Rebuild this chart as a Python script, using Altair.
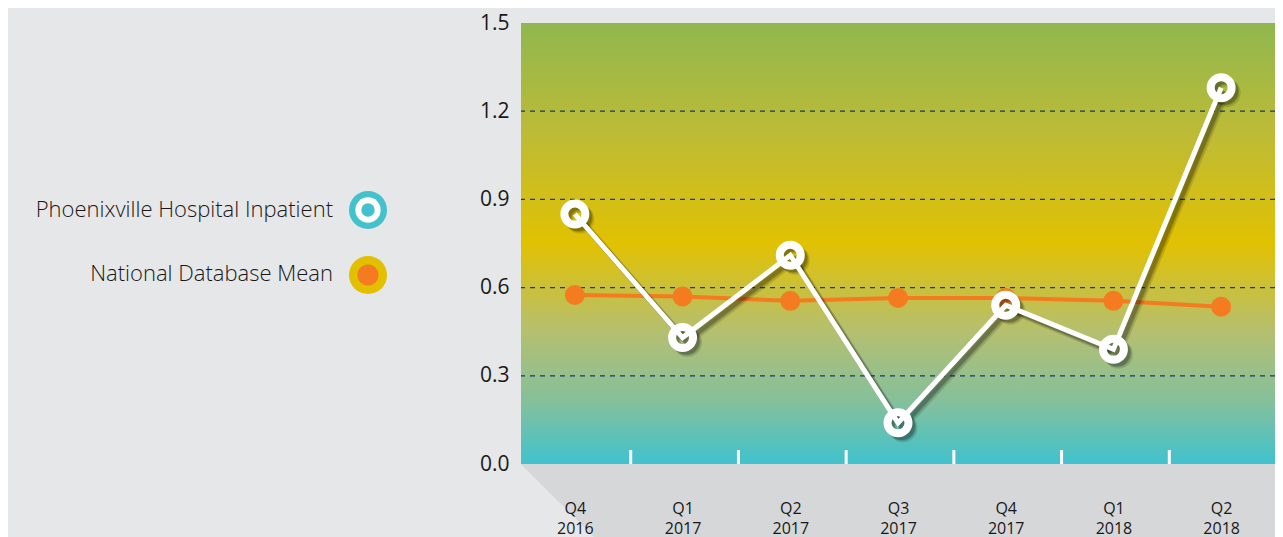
import altair as alt
import pandas as pd

quarters = ["Q4 2016", "Q1 2017", "Q2 2017", "Q3 2017", "Q4 2017", "Q1 2018", "Q2 2018"]
phoenix = [0.85, 0.43, 0.71, 0.14, 0.54, 0.39, 1.28]
national = [0.575, 0.57, 0.555, 0.565, 0.565, 0.555, 0.535]
grid_values = [0.3, 0.6, 0.9, 1.2]
y_ticks = [0.0, 0.3, 0.6, 0.9, 1.2, 1.5]
legend_labels = ["Phoenixville Hospital Inpatient", "National Database Mean"]

W, H = 754, 441
BG = "#e6e7e8"
SHADOW_GRAY = "#d6d7d9"
FONT = "Open Sans"
TEXT = "#1a1718"
ORANGE = "#f47b20"
TEAL = "#43c2cd"
YELLOW = "#e2c000"

df_p = pd.DataFrame({"quarter": quarters, "value": phoenix})
df_n = pd.DataFrame({"quarter": quarters, "value": national})
df_grid = pd.DataFrame({"value": grid_values})
df_ticks = pd.DataFrame({"quarter": quarters[1:]})
one = pd.DataFrame({"a": [0]})

xscale = alt.Scale(type="point", padding=0.5)
xenc = alt.X(
    "quarter:N",
    sort=quarters,
    scale=xscale,
    axis=alt.Axis(
        title=None,
        domain=False,
        ticks=False,
        grid=False,
        zindex=2,
        labelAngle=0,
        labelExpr="split(datum.value, ' ')",
        labelFont=FONT,
        labelFontSize=16,
        labelFontWeight=400,
        labelColor=TEXT,
        labelLineHeight=20,
        labelPadding=36,
        labelBaseline="top",
    ),
)
yscale = alt.Scale(domain=[0, 1.5], nice=False, zero=True)
yenc = alt.Y(
    "value:Q",
    scale=yscale,
    axis=alt.Axis(
        title=None,
        domain=False,
        ticks=False,
        grid=False,
        zindex=2,
        values=y_ticks,
        format=".1f",
        labelFont=FONT,
        labelFontSize=21,
        labelFontWeight=400,
        labelColor=TEXT,
        labelPadding=12,
    ),
)

# gray "3D" shadow below the plot
shadow_bottom = alt.Chart(one).mark_rect(color=SHADOW_GRAY).encode(
    x=alt.value(0), x2=alt.value(W), y=alt.value(H), y2=alt.value(H + 80)
)
cut_left = alt.Chart(one).mark_point(
    shape="M-1,-1L1,1L-1,1Z", filled=True, color=BG, opacity=1, size=90 * 90
).encode(x=alt.value(45), y=alt.value(H + 45))

gradient = alt.LinearGradient(
    gradient="linear",
    stops=[
        alt.GradientStop(offset=0.0, color="#90b74f"),
        alt.GradientStop(offset=0.25, color="#bdbb36"),
        alt.GradientStop(offset=0.5, color="#e1c102"),
        alt.GradientStop(offset=0.7, color="#b5bf70"),
        alt.GradientStop(offset=0.86, color="#84c09c"),
        alt.GradientStop(offset=1.0, color="#40c2ce"),
    ],
    x1=0, x2=0, y1=0, y2=1,
)
bg_rect = alt.Chart(one).mark_rect(color=gradient).encode(
    x=alt.value(0), x2=alt.value(W), y=alt.value(0), y2=alt.value(H)
)

grid = alt.Chart(df_grid).mark_rule(color="#143a6b", strokeWidth=1.3, strokeDash=[5, 5]).encode(
    y=yenc
)

ticks = alt.Chart(df_ticks).mark_rule(color="white", strokeWidth=3, xOffset=-W / 14 + 2).encode(
    x=xenc, y=alt.value(H - 14), y2=alt.value(H)
)

nat_line = alt.Chart(df_n).mark_line(color=ORANGE, strokeWidth=4).encode(x=xenc, y=yenc)
nat_pts = alt.Chart(df_n).mark_circle(color=ORANGE, opacity=1, size=400).encode(x=xenc, y=yenc)

shadow_layers = []
for off, w, op in [(5, 7, 0.12), (4, 6, 0.15), (3.5, 5, 0.18)]:
    shadow_layers.append(
        alt.Chart(df_p).mark_line(color="black", strokeWidth=w, opacity=op, xOffset=off, yOffset=off).encode(
            x=xenc, y=yenc
        )
    )
    shadow_layers.append(
        alt.Chart(df_p).mark_point(
            color="black", filled=False, strokeWidth=w + 1, opacity=op, size=440, xOffset=off, yOffset=off
        ).encode(x=xenc, y=yenc)
    )

ph_line = alt.Chart(df_p).mark_line(color="white", strokeWidth=5).encode(x=xenc, y=yenc)
ph_pts = alt.Chart(df_p).mark_point(
    color="white", filled=False, strokeWidth=8, opacity=1, size=440
).encode(x=xenc, y=yenc)

# legend (left side)
LX = -153
leg_text1 = alt.Chart(one).mark_text(
    text=legend_labels[0], align="right", baseline="middle", font=FONT, fontSize=22,
    fontWeight=300, color=TEXT
).encode(x=alt.value(-188), y=alt.value(187))
leg_text2 = alt.Chart(one).mark_text(
    text=legend_labels[1], align="right", baseline="middle", font=FONT, fontSize=22,
    fontWeight=300, color=TEXT
).encode(x=alt.value(-188), y=alt.value(251))
leg_icons = [
    alt.Chart(one).mark_circle(color=TEAL, opacity=1, size=1450).encode(x=alt.value(LX), y=alt.value(187)),
    alt.Chart(one).mark_circle(color="white", opacity=1, size=640).encode(x=alt.value(LX), y=alt.value(187)),
    alt.Chart(one).mark_circle(color=TEAL, opacity=1, size=180).encode(x=alt.value(LX), y=alt.value(187)),
    alt.Chart(one).mark_circle(color=YELLOW, opacity=1, size=1450).encode(x=alt.value(LX), y=alt.value(252)),
    alt.Chart(one).mark_circle(color=ORANGE, opacity=1, size=450).encode(x=alt.value(LX), y=alt.value(252)),
]

chart = alt.layer(
    shadow_bottom, cut_left,
    bg_rect, grid, ticks,
    nat_line, nat_pts,
    *shadow_layers,
    ph_line, ph_pts,
    leg_text1, leg_text2, *leg_icons,
).properties(
    width=W,
    height=H,
    autosize=alt.AutoSizeParams(type="none"),
    padding={"left": 513, "top": 15, "right": 0, "bottom": 73},
    background=BG,
).configure_view(stroke=None)

chart.save("out.html", embed_options={"renderer": "svg", "actions": False})
